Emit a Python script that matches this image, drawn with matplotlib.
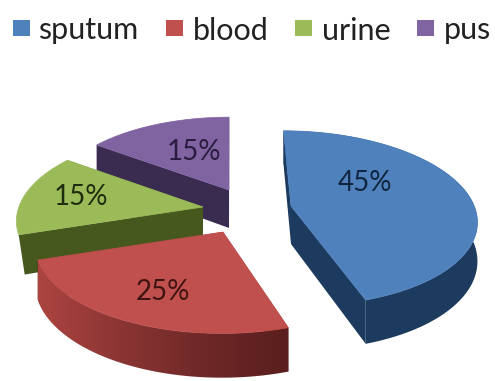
import numpy as np
import matplotlib
matplotlib.use("Agg")
import matplotlib.pyplot as plt
from matplotlib.patches import Polygon, Rectangle
from matplotlib.colors import LinearSegmentedColormap

categories = ["sputum", "blood", "urine", "pus"]
shares = [45, 25, 15, 15]
top_colors = ["#4f81bd", "#c0504d", "#9bbb59", "#8064a2"]
wall_colors = ["#1d3a5f", "#6a2625", "#47581f", "#3a2c50"]

# Pie centre of each exploded slice on the page, its radius factor, and label anchors
apexes = [(291, 206), (223, 232), (203, 207), (229, 190)]
radius_factor = [0.985, 1.0, 0.99, 0.95]
wall_lean = [0, 0, 6, 0]
has_rim = [True, True, False, False]
label_xy = [(365, 183), (163, 292), (81, 197), (194, 152)]
label_colors = ["#10253f", "#3f1312", "#1f2d0c", "#291c3f"]
legend_box_x = [13, 166, 295, 417]
legend_text_x = [38, 193, 322, 444]

RADIUS_X = 186
RADIUS_Y = 87
DEPTH = 38
PERSPECTIVE = 0.142
VANISH_X = 230


def project(apex, theta, r=1.0, drop=0.0):
    """Page position of a point on a tilted disc; theta runs clockwise from 12 o'clock."""
    y = r * np.cos(theta)
    s = 1.0 / (1.0 + PERSPECTIVE * y)
    px = VANISH_X + (apex[0] - VANISH_X) * s + RADIUS_X * r * np.sin(theta) * s
    py = apex[1] - RADIUS_Y * y * s + drop * s
    return np.column_stack([np.atleast_1d(px), np.atleast_1d(py)])


fig = plt.figure(figsize=(4.95, 3.81), dpi=100)
ax = fig.add_axes([0, 0, 1, 1])

spans = np.cumsum([0] + shares) / sum(shares) * 2 * np.pi
draw_order = [3, 2, 0, 1]
blood_rim = LinearSegmentedColormap.from_list("rim", ["#ac4441", "#8a3533", "#6e2827", "#5a1f1e"])

for layer, i in enumerate(draw_order):
    start, stop = spans[i], spans[i + 1]
    apex = apexes[i]
    r = radius_factor[i]
    thetas = np.linspace(start, stop, 90)
    arc_top = project(apex, thetas, r)
    arc_low = project(apex, thetas, r, drop=DEPTH) + [wall_lean[i], 0]
    apex_top = np.array(apex, dtype=float)
    apex_low = apex_top + [0, DEPTH]
    base_z = 2 + layer * 3

    # radial walls
    for top_pt, low_pt in ((arc_top[0], arc_low[0]), (arc_top[-1], arc_low[-1])):
        ax.add_patch(Polygon([apex_top, top_pt, low_pt, apex_low], closed=True,
                             fc=wall_colors[i], ec="none", zorder=base_z))

    # outer rim on the front slices; blood fades from lit to dark across its width
    rim_outline = np.vstack([arc_top, arc_low[::-1]])
    if i == 1:
        rim = Polygon(rim_outline, closed=True, fc="none", ec="none", transform=ax.transData)
        ax.add_patch(rim)
        x0, y0 = rim_outline.min(axis=0)
        x1, y1 = rim_outline.max(axis=0)
        image = ax.imshow(np.linspace(0, 1, 256)[None, :], cmap=blood_rim, aspect="auto",
                          extent=(x0, x1, y1, y0), zorder=base_z + 0.5, interpolation="bilinear")
        image.set_clip_path(rim)
    elif has_rim[i]:
        ax.add_patch(Polygon(rim_outline, closed=True, fc=wall_colors[i],
                             ec="none", zorder=base_z))

    # top face
    ax.add_patch(Polygon(np.vstack([apex_top, arc_top]), closed=True, fc=top_colors[i],
                         ec=top_colors[i], lw=0.5, zorder=base_z + 1))

    ax.text(*label_xy[i], f"{shares[i]}%", ha="center", va="center",
            fontsize=20, family="Lato", color=label_colors[i], zorder=30)

# legend row
for name, color, bx, tx in zip(categories, top_colors, legend_box_x, legend_text_x):
    ax.add_patch(Rectangle((bx, 20), 17, 16, fc=color, ec="none", zorder=30))
    ax.text(tx, 28, name, ha="left", va="center_baseline", fontsize=22,
            family="Lato", color="#222222", zorder=30)

ax.set_xlim(0, 495)
ax.set_ylim(381, 0)
ax.axis("off")

fig.savefig("out.png", dpi=100, facecolor="white")
